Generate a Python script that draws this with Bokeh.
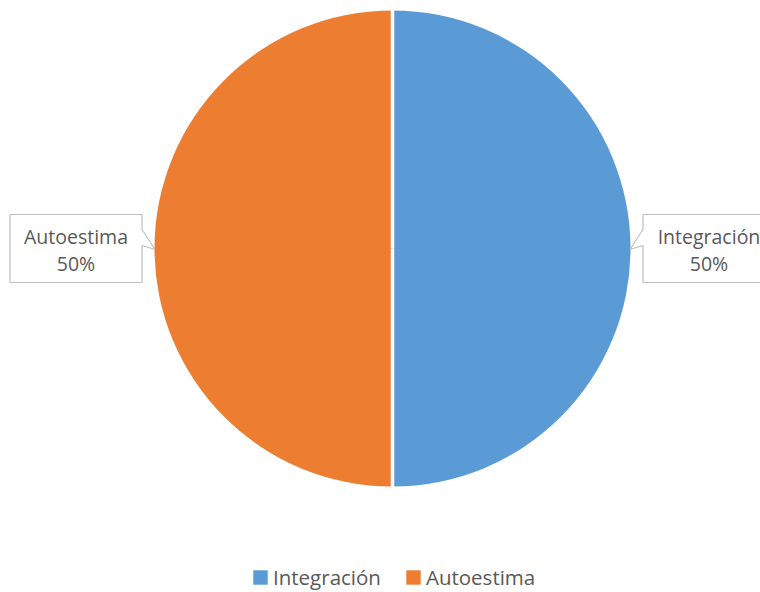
import numpy as np
from bokeh.plotting import figure
from bokeh.models import Range1d, ColumnDataSource, Legend, LegendItem
from bokeh.embed import file_html
from bokeh.resources import INLINE
from bokeh.core.properties import value

# ---- data ----
categories = ["Integración", "Autoestima"]
values = [50, 50]
colors = ["#5B9BD5", "#ED7D31"]

# ---- layout ----
W, H = 760, 592
cx, cy, R = 392.0, 344.0, 238.0
FONT = "Open Sans"
TXT = "#595959"

p = figure(width=W, height=H, x_range=Range1d(0, W), y_range=Range1d(0, H),
           output_backend="svg", toolbar_location=None, min_border=0)
p.axis.visible = False
p.grid.visible = False
p.outline_line_color = None
p.background_fill_color = "white"
p.border_fill_color = "white"

total = float(sum(values))
cum = np.concatenate([[0.0], np.cumsum(values)])
start = np.pi / 2 - 2 * np.pi * cum[:-1] / total
end = np.pi / 2 - 2 * np.pi * cum[1:] / total
mid = (start + end) / 2
pct = [f"{round(v / total * 100)}%" for v in values]

src = ColumnDataSource(dict(cat=categories, val=values, color=colors,
                            start=start, end=end))
wedges = p.wedge(x=cx, y=cy, radius=R, start_angle="start", end_angle="end",
                 direction="clock", fill_color="color", line_color=None, source=src)

# white separators between slices
p.segment(x0=[cx] * len(values), y0=[cy] * len(values),
          x1=list(cx + (R + 2) * np.cos(start)), y1=list(cy + (R + 2) * np.sin(start)),
          line_color="white", line_width=3.5)

# ---- callouts ----
hw, hh = 66.0, 34.0
D = R + 78.5
xs, ys = [], []
name_x, name_y, pct_y = [], [], []
for m in mid:
    dx, dy = np.cos(m), np.sin(m)
    s = 1.0 if dx >= 0 else -1.0
    bx, by = cx + D * dx, cy + D * dy
    near = bx - s * hw
    far = bx + s * hw
    tipx, tipy = cx + (R - 0.5) * dx, cy + (R - 0.5) * dy - 1
    xs.append([near, far, far, near, near, tipx, near])
    ys.append([by + hh, by + hh, by - hh, by - hh, by + 3, tipy, by + 19])
    name_x.append(bx)
    name_y.append(by + 12)
    pct_y.append(by - 15)

p.patches(xs=xs, ys=ys, fill_color="white", line_color="#BFBFBF", line_width=1.2)
p.text(x=name_x, y=name_y, text=categories, text_align="center",
       text_baseline="alphabetic", text_font=value(FONT), text_font_size="19.5px",
       text_color=TXT)
p.text(x=name_x, y=pct_y, text=pct, text_align="center",
       text_baseline="alphabetic", text_font=value(FONT), text_font_size="19.5px",
       text_color=TXT)

# ---- legend ----
items = [LegendItem(label=c, renderers=[wedges], index=i) for i, c in enumerate(categories)]
legend = Legend(items=items, orientation="horizontal", location=(251, 1),
                glyph_width=18, glyph_height=18, label_standoff=4, spacing=23,
                padding=0, margin=0, border_line_color=None, background_fill_alpha=0,
                label_text_font=FONT, label_text_font_size="20.5px",
                label_text_color=TXT, label_height=18)
p.add_layout(legend, "center")

open("out.html", "w").write(file_html(p, INLINE))
